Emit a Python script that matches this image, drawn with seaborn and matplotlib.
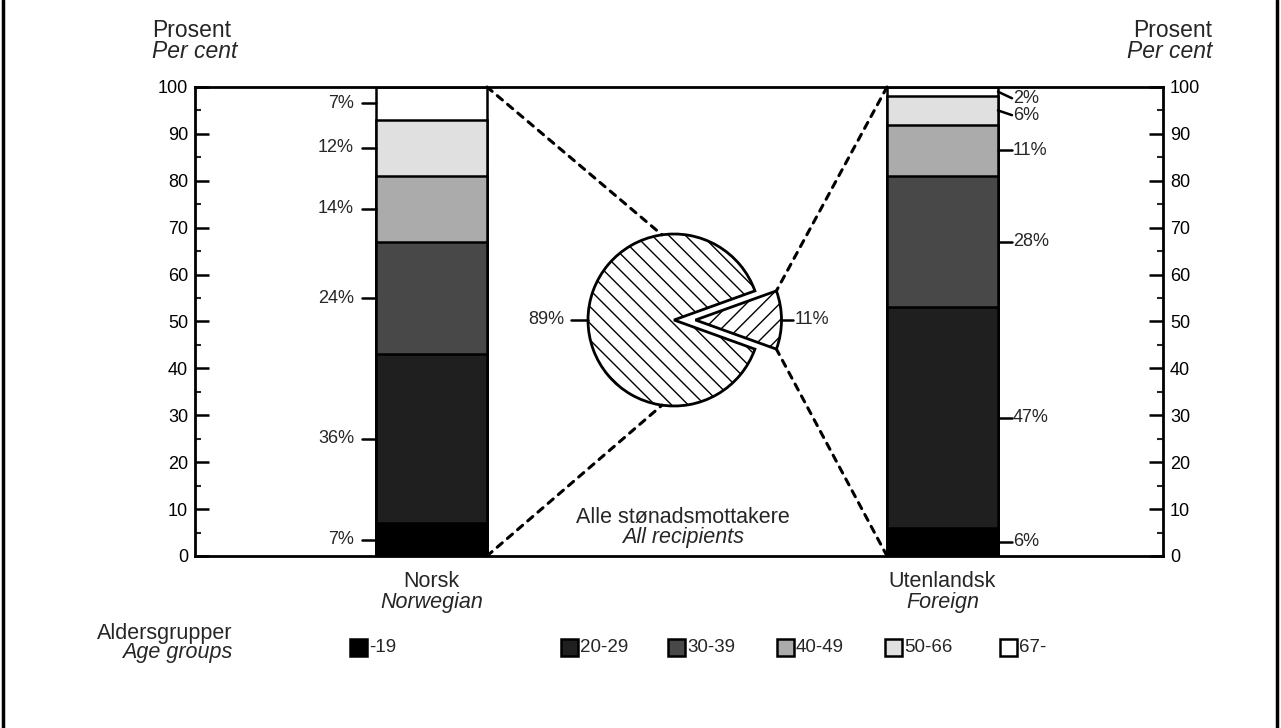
import numpy as np
import pandas as pd
import matplotlib
matplotlib.use("Agg")
import matplotlib.pyplot as plt
from matplotlib.patches import ConnectionPatch, Rectangle
from matplotlib.lines import Line2D
import seaborn as sns

# data
age_groups = ["-19", "20-29", "30-39", "40-49", "50-66", "67-"]
norsk = [7, 36, 24, 14, 12, 7]
utenlandsk = [6, 47, 28, 11, 6, 2]
pie_values = [89, 11]
pie_labels = ["89%", "11%"]
y_ticks = [0, 10, 20, 30, 40, 50, 60, 70, 80, 90, 100]

group_colors = ["#000000", "#1f1f1f", "#484848", "#ababab", "#e0e0e0", "#ffffff"]

sns.set_theme(style="white")
plt.rcParams["font.family"] = ["Liberation Sans", "DejaVu Sans"]
plt.rcParams["hatch.linewidth"] = 1.0

W, H = 1281, 728
fig = plt.figure(figsize=(W / 100, H / 100), dpi=100)

# plot area in pixels
px_left, px_right, px_top, px_bottom = 195, 1163, 87, 556
ax = fig.add_axes([px_left / W, 1 - px_bottom / H, (px_right - px_left) / W, (px_bottom - px_top) / H])

bar_x = [431.5, 942.5]
bar_w = 111

# stacked bars, drawn as cumulative layers from the top down
df = pd.DataFrame({"x": np.repeat(bar_x, len(age_groups)),
                   "group": age_groups * 2,
                   "value": norsk + utenlandsk})
df["cum"] = df.groupby("x")["value"].cumsum()
for i in reversed(range(len(age_groups))):
    layer = df[df["group"] == age_groups[i]]
    sns.barplot(data=layer, x="x", y="cum", native_scale=True, errorbar=None,
                width=bar_w / (bar_x[1] - bar_x[0]), color=group_colors[i],
                saturation=1, edgecolor="black", linewidth=1.8, ax=ax)
ax.set_xlim(px_left, px_right)
ax.set_ylim(0, 100)

# axes styling
for sp in ax.spines.values():
    sp.set_visible(True)
    sp.set_color("black")
    sp.set_linewidth(2)
ax.set_xticks([])
ax.set_xlabel("")
ax.set_ylabel("")
ax.set_yticks(y_ticks)
ax.set_yticklabels([str(t) for t in y_ticks])
ax.set_yticks(np.arange(5, 100, 10), minor=True)
ax.tick_params(axis="y", which="major", direction="in", length=10, width=1.8,
               left=True, right=True, labelleft=True, labelright=True,
               labelsize=13, pad=5, colors="black")
ax.tick_params(axis="y", which="minor", direction="in", length=4, width=1.5,
               left=True, right=True)

# percentage labels on the bars
left_edge = bar_x[0] - bar_w / 2
right_edge = bar_x[1] + bar_w / 2
cum_n = np.cumsum(norsk)
for v, c in zip(norsk, cum_n):
    mid = c - v / 2
    ax.plot([left_edge - 14, left_edge], [mid, mid], color="black", lw=1.8)
    ax.text(left_edge - 22, mid, f"{v}%", ha="right", va="center", fontsize=13)

cum_u = np.cumsum(utenlandsk)
label_shift = {4: -1.0, 5: -1.4}  # top labels pushed down a little
for i, (v, c) in enumerate(zip(utenlandsk, cum_u)):
    mid = c - v / 2
    ly = mid + label_shift.get(i, 0)
    ax.plot([right_edge, right_edge + 14], [mid, ly], color="black", lw=1.8)
    ax.text(right_edge + 15, ly, f"{v}%", ha="left", va="center", fontsize=13)

# category labels
for x, name, eng in zip(bar_x, ["Norsk", "Utenlandsk"], ["Norwegian", "Foreign"]):
    ax.text(x, -3.3, name, ha="center", va="top", fontsize=15.5)
    ax.text(x, -7.6, eng, ha="center", va="top", fontsize=15.5, style="italic")

ax.text(683, 8.3, "Alle stønadsmottakere", ha="center", va="center", fontsize=15.5)
ax.text(683, 4.0, "All recipients", ha="center", va="center", fontsize=15.5, style="italic")

# pie in its own axes
cx, cy, r = 674, 320, 86
half = 1.45 * r
pax = fig.add_axes([(cx - half) / W, 1 - (cy + half) / H, 2 * half / W, 2 * half / H])
start = 360 * pie_values[1] / sum(pie_values) / 2
wedges, _ = pax.pie(pie_values, startangle=start, explode=[0, 0.25], radius=1,
                    colors=["white", "white"], counterclock=True,
                    wedgeprops=dict(edgecolor="black", linewidth=2))
wedges[0].set_hatch("\\\\")
wedges[1].set_hatch("//")
pax.set_xlim(-1.45, 1.45)
pax.set_ylim(-1.45, 1.45)
pax.set_aspect("equal")
pax.axis("off")

pax.plot([-1.0, -1.2], [0, 0], color="black", lw=1.8, clip_on=False)
pax.text(-1.27, 0, pie_labels[0], ha="right", va="center", fontsize=13)
pax.plot([1.24, 1.38], [0, 0], color="black", lw=1.8, clip_on=False)
pax.text(1.4, 0, pie_labels[1], ha="left", va="center", fontsize=13)

# dotted connectors
half_ang = np.deg2rad(start)
wedge_top = (0.25 + np.cos(half_ang), np.sin(half_ang))
wedge_bot = (0.25 + np.cos(half_ang), -np.sin(half_ang))
left_top = (np.cos(np.deg2rad(98)), np.sin(np.deg2rad(98)))
left_bot = (np.cos(np.deg2rad(262)), np.sin(np.deg2rad(262)))
inner_r = bar_x[0] + bar_w / 2
inner_l = bar_x[1] - bar_w / 2
for xa, ya, pb in [(inner_r, 100, left_top), (inner_r, 0, left_bot),
                   (inner_l, 100, wedge_top), (inner_l, 0, wedge_bot)]:
    con = ConnectionPatch(xyA=(xa, ya), coordsA=ax.transData, xyB=pb, coordsB=pax.transData,
                          linestyle=(0, (2.2, 2.2)), linewidth=2.2, color="black")
    fig.add_artist(con)

# y-axis titles
fig.text(152 / W, 1 - 37 / H, "Prosent", ha="left", va="baseline", fontsize=16.5)
fig.text(152 / W, 1 - 58 / H, "Per cent", ha="left", va="baseline", fontsize=16.5, style="italic")
fig.text(1212 / W, 1 - 37 / H, "Prosent", ha="right", va="baseline", fontsize=16.5)
fig.text(1212 / W, 1 - 58 / H, "Per cent", ha="right", va="baseline", fontsize=16.5, style="italic")

# legend
fig.text(232 / W, 1 - 639 / H, "Aldersgrupper", ha="right", va="baseline", fontsize=15.5)
fig.text(232 / W, 1 - 658 / H, "Age groups", ha="right", va="baseline", fontsize=15.5, style="italic")
box_x = [350, 561, 668, 777, 885, 1000]
for bx, g, col in zip(box_x, age_groups, group_colors):
    fig.add_artist(Rectangle((bx / W, 1 - 656 / H), 17 / W, 17 / H, transform=fig.transFigure,
                             facecolor=col, edgecolor="black", linewidth=1.8))
    fig.text((bx + 19) / W, 1 - 647 / H, g, ha="left", va="center", fontsize=13.5)

# outer frame lines
fig.add_artist(Line2D([3 / W, 3 / W], [0, 1], color="black", lw=2.5, transform=fig.transFigure))
fig.add_artist(Line2D([1277 / W, 1277 / W], [0, 1], color="black", lw=2.5, transform=fig.transFigure))

fig.savefig("out.png", dpi=100)
